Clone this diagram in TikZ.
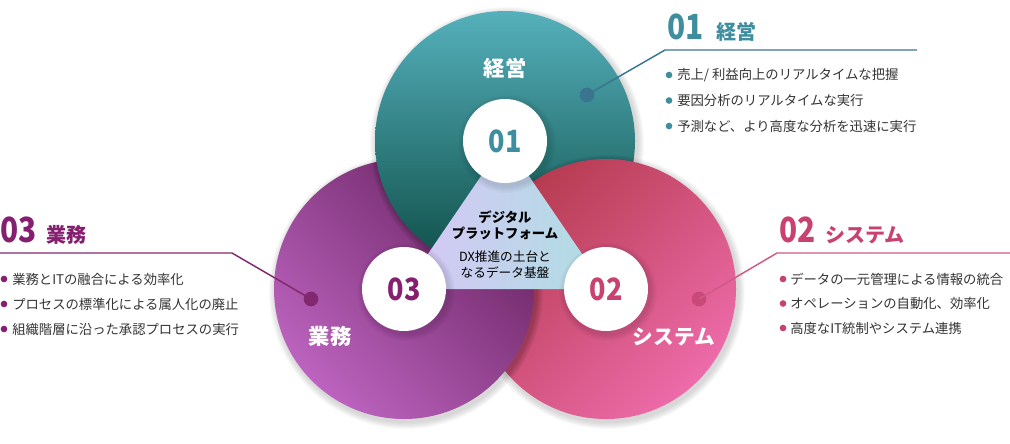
\documentclass[tikz,border=0pt]{standalone}
\usepackage{fontspec}
\setmainfont{Noto Sans CJK JP}
\usepackage{tikz}
\usetikzlibrary{calc}

\definecolor{tealA}{HTML}{56B2BD}
\definecolor{tealB}{HTML}{0C4B44}
\definecolor{purpLight}{HTML}{BD64C0}
\definecolor{purpDark}{HTML}{6A2462}
\definecolor{pinkDark}{HTML}{B53A4E}
\definecolor{pinkLight}{HTML}{EE6CAB}
\definecolor{triL}{HTML}{D8C6F6}
\definecolor{triR}{HTML}{ADDFE2}
\definecolor{num01}{HTML}{3F8EA0}
\definecolor{num03}{HTML}{84206F}
\definecolor{num02}{HTML}{C8416F}
\definecolor{pin01}{HTML}{3B7491}
\definecolor{pin03}{HTML}{82286F}
\definecolor{pin02}{HTML}{C94978}
\definecolor{textgray}{HTML}{333333}

% soft shadow under a disc
\newcommand{\circshadow}[3][0.025]{%
  \foreach \k in {1,...,7}{\fill[black, opacity=#1] ([shift={(2,3)}]#2) circle ({#3+\k});}}
% big disc with a gradient
\newcommand{\shadedisc}[2]{%
  \begin{scope}
  \clip (#1) circle (130);
  \shade[#2] ([shift={(-134,-134)}]#1) rectangle ([shift={(134,134)}]#1);
  \end{scope}}

\begin{document}
\begin{tikzpicture}[x=0.75pt, y=-0.75pt,
  numdisc/.style={circle, fill=white, minimum size=63pt, inner sep=0pt,
    font=\bfseries\fontsize{23}{23}\selectfont},
  circlabel/.style={text=white, inner sep=0pt, font=\bfseries\fontsize{16}{16}\selectfont},
  headnum/.style={anchor=base west, inner sep=0pt, font=\bfseries\fontsize{26}{26}\selectfont},
  headword/.style={anchor=base west, inner sep=0pt, font=\bfseries\fontsize{15}{15}\selectfont},
  pin/.style={circle, inner sep=0pt, minimum size=11pt},
  itemdot/.style={circle, inner sep=0pt, minimum size=5pt},
  itemtext/.style={anchor=west, inner sep=0pt, text=textgray, font=\fontsize{10}{12}\selectfont},
  rule/.style={line width=1.1pt}]
\useasboundingbox (0,0) rectangle (1010,443);

\coordinate (cTop) at (505,141);
\coordinate (cLeft) at (404,289);
\coordinate (cRight) at (606,289);

% shadows on the background
\circshadow{cTop}{130}
\circshadow{cLeft}{130}
\circshadow{cRight}{130}

% teal disc
\shadedisc{cTop}{top color=tealA, bottom color=tealB}
% pink disc, over teal
\begin{scope}
\clip (cTop) circle (130);
\circshadow[0.035]{cRight}{130}
\end{scope}
\shadedisc{cRight}{top color=pinkDark, bottom color=pinkLight, shading angle=45}
% purple disc, over pink
\begin{scope}
\clip (cRight) circle (130);
\circshadow[0.035]{cLeft}{130}
\end{scope}
\shadedisc{cLeft}{top color=purpDark, bottom color=purpLight, shading angle=-45}
% teal again, over purple
\begin{scope}
\clip (cLeft) circle (130);
\circshadow[0.035]{cTop}{130}
\end{scope}
\begin{scope}
\clip (cLeft) circle (132);
\shadedisc{cTop}{top color=tealA, bottom color=tealB}
\end{scope}

% platform triangle
\shade[left color=triL, right color=triR] (cTop) -- (cLeft) -- (cRight) -- cycle;
\node[align=center, inner sep=0pt, font=\bfseries\fontsize{10}{12}\selectfont] (platform)
  at (505,225) {デジタル\\プラットフォーム};
\node[align=center, inner sep=0pt, font=\fontsize{9.5}{12}\selectfont] (platformsub)
  at (505,265) {DX推進の土台と\\なるデータ基盤};

% number discs
\circshadow[0.015]{cTop}{42}
\circshadow[0.015]{cLeft}{42}
\circshadow[0.015]{cRight}{42}
\node[numdisc, text=num01] (n01) at (cTop) {\scalebox{0.88}[1]{01}};
\node[numdisc, text=num03] (n03) at (cLeft) {\scalebox{0.88}[1]{03}};
\node[numdisc, text=num02] (n02) at (cRight) {\scalebox{0.88}[1]{02}};

\node[circlabel] (lab01) at (505,68) {経営};
\node[circlabel] (lab03) at (330,336) {業務};
\node[circlabel, font=\bfseries\fontsize{15.5}{16}\selectfont] (lab02) at (674,337) {システム};

% 01 keiei
\node[headnum, text=num01] (h01) at (667,39) {\scalebox{0.86}[1]{01}};
\node[headword, text=num01] (w01) at ([xshift=9pt]h01.base east) {経営};
\coordinate (k01) at (665,50);
\coordinate (e01) at (917,50);
\node[pin, fill=pin01] (p01) at (587,95) {};
\draw[rule, pin01] (p01.center) -- (k01) -- (e01);
\foreach \txt [count=\i] in {売上/ 利益向上のリアルタイムな把握, 要因分析のリアルタイムな実行,
  予測など、より高度な分析を迅速に実行}{
  \node[itemdot, fill=num01] (d01-\i) at (669,{75+25.5*(\i-1)}) {};
  \node[itemtext] (t01-\i) at (677,{75+25.5*(\i-1)}) {\txt};
}

% 03 gyoumu
\node[headnum, text=num03] (h03) at (0,242) {\scalebox{0.86}[1]{03}};
\node[headword, text=num03] (w03) at ([xshift=7pt]h03.base east) {業務};
\coordinate (k03) at (232,253);
\coordinate (e03) at (0,253);
\node[pin, fill=pin03] (p03) at (311,299) {};
\draw[rule, pin03] (p03.center) -- (k03) -- (e03);
\foreach \txt [count=\i] in {業務とITの融合による効率化, プロセスの標準化による属人化の廃止,
  組織階層に沿った承認プロセスの実行}{
  \node[itemdot, fill=num03] (d03-\i) at (4,{279+25*(\i-1)}) {};
  \node[itemtext] (t03-\i) at (12,{279+25*(\i-1)}) {\txt};
}

% 02 system
\node[headnum, text=num02] (h02) at (779,242) {\scalebox{0.86}[1]{02}};
\node[headword, text=num02] (w02) at ([xshift=7pt]h02.base east) {システム};
\coordinate (k02) at (777,253);
\coordinate (e02) at (1010,253);
\node[pin, fill=pin02] (p02) at (699,299) {};
\draw[rule, pin02!90!white] (p02.center) -- (k02) -- (e02);
\foreach \txt [count=\i] in {データの一元管理による情報の統合, オペレーションの自動化、効率化,
  高度なIT統制やシステム連携}{
  \node[itemdot, fill=num02] (d02-\i) at (783,{279+24.5*(\i-1)}) {};
  \node[itemtext] (t02-\i) at (790,{279+24.5*(\i-1)}) {\txt};
}
\end{tikzpicture}
\end{document}
